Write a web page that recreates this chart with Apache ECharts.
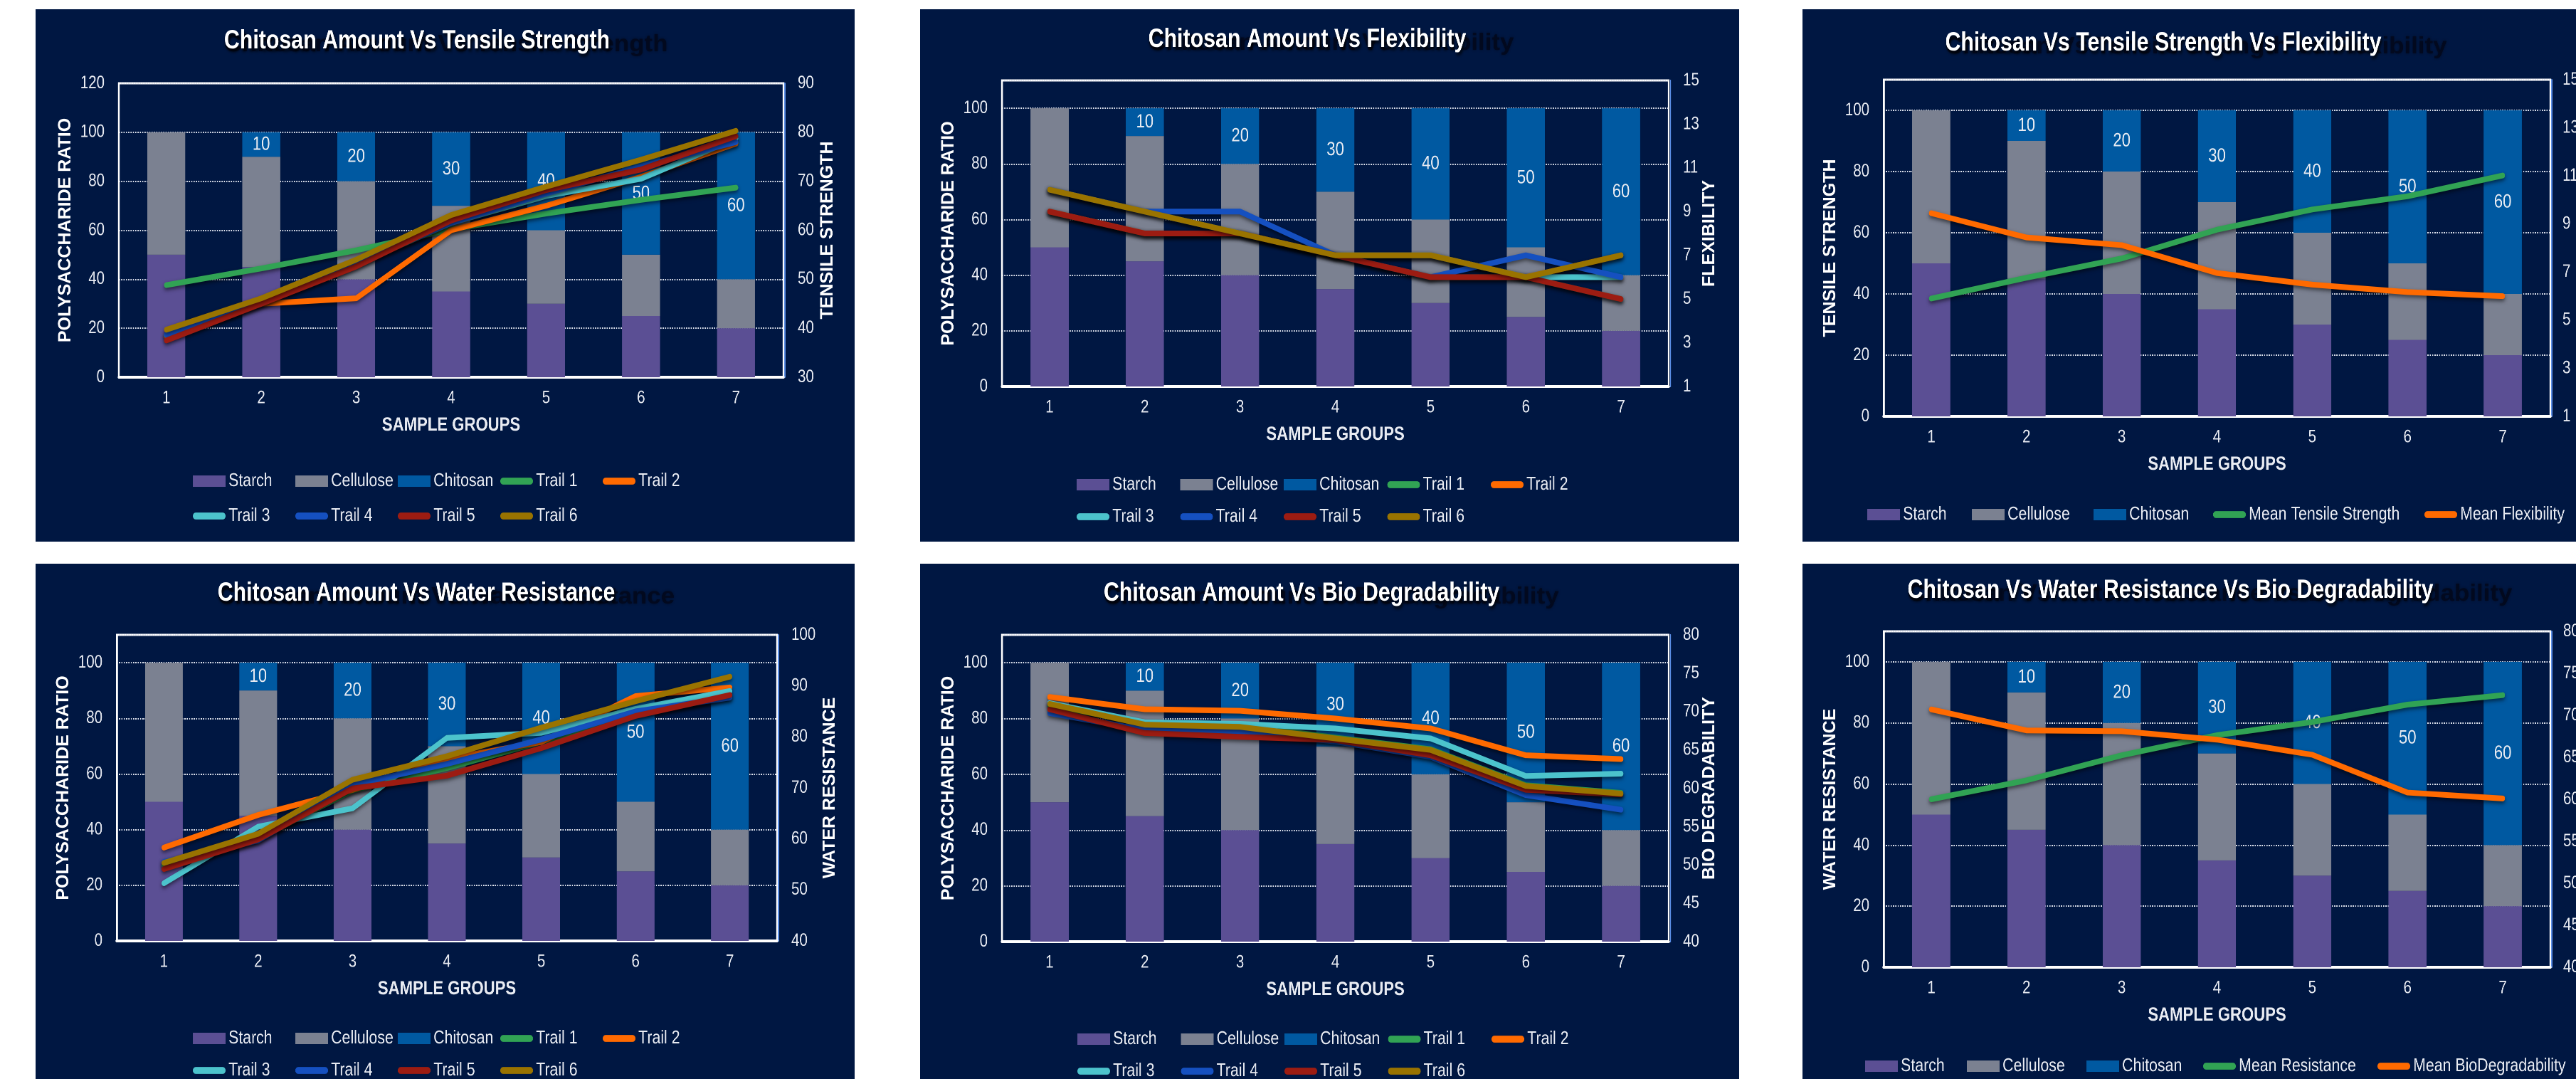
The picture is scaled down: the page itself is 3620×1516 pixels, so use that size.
<!DOCTYPE html>
<html>
<head>
<meta charset="utf-8">
<title>Chitosan blend films</title>
<script src="https://cdn.jsdelivr.net/npm/echarts@6/dist/echarts.min.js"></script>
<style>
  html, body { margin: 0; padding: 0; background: #ffffff; }
  body { position: relative; width: 3620px; height: 1516px; overflow: hidden; }
  .panel { position: absolute; background: #001742; overflow: hidden; }
  /* each chart is laid out wider and squeezed back, giving narrow (Arial Narrow style) lettering */
  .chart { position: absolute; left: 0; top: 0; transform-origin: 0 0; }
</style>
</head>
<body>
<div class="panel" id="tensile"     style="left:50px;top:13px;width:1151px;height:748px"></div>
<div class="panel" id="flex"        style="left:1293px;top:13px;width:1151px;height:748px"></div>
<div class="panel" id="tensileFlex" style="left:2533px;top:13px;width:1087px;height:748px"></div>
<div class="panel" id="water"       style="left:50px;top:792px;width:1151px;height:724px"></div>
<div class="panel" id="bio"         style="left:1293px;top:792px;width:1151px;height:724px"></div>
<div class="panel" id="waterBio"    style="left:2533px;top:792px;width:1087px;height:724px"></div>
<script>
// ---- fonts & palette ----
const FONT = "'Liberation Sans',Arial,Helvetica,sans-serif";
const K = 0.82;                 // horizontal squeeze of each chart canvas
const TEXT = '#e8ebf2';

// ---- film composition (polysaccharide ratio, %) ----
const sampleGroups = ['1', '2', '3', '4', '5', '6', '7'];
const starch    = [50, 45, 40, 35, 30, 25, 20];
const cellulose = [50, 45, 40, 35, 30, 25, 20];
const chitosan  = [0, 10, 20, 30, 40, 50, 60];

const trailNames  = ['Trail 1', 'Trail 2', 'Trail 3', 'Trail 4', 'Trail 5', 'Trail 6'];
const trailColors = ['#31a354', '#ff6a00', '#4cc3cc', '#1550c0', '#9c1c12', '#997300'];

// ---- tensile strength per trail ----
const tensileT1 = [48.8, 52.2, 55.9, 60.2, 63.4, 66.2, 68.7];
const tensileT2 = [38.2, 45.0, 46.1, 60.0, 65.0, 70.9, 77.7];
const tensileT3 = [38.6, 45.0, 53.0, 61.5, 67.0, 70.5, 78.7];
const tensileT4 = [38.7, 45.4, 53.3, 61.5, 67.5, 73.0, 78.0];
const tensileT5 = [37.5, 45.0, 52.6, 62.0, 68.2, 72.4, 79.2];
const tensileT6 = [39.7, 46.1, 54.0, 63.1, 68.9, 74.4, 80.3];

// ---- flexibility per trail ----
const flexT1 = [9, 8, 8, 7, 6, 6, 5];
const flexT2 = [9, 8, 8, 7, 7, 6, 7];
const flexT3 = [10, 9, 8, 7, 7, 6, 6];
const flexT4 = [10, 9, 9, 7, 6, 7, 6];
const flexT5 = [9, 8, 8, 7, 6, 6, 5];
const flexT6 = [10, 9, 8, 7, 7, 6, 7];

// ---- water resistance per trail ----
const waterT1 = [54.8, 60.0, 69.5, 73.9, 79.0, 84.4, 88.0];
const waterT2 = [58.3, 64.7, 69.6, 75.7, 79.0, 88.0, 89.7];
const waterT3 = [51.3, 62.4, 66.0, 79.8, 80.8, 85.5, 89.0];
const waterT4 = [55.5, 59.7, 70.6, 74.7, 79.5, 85.0, 87.7];
const waterT5 = [54.1, 59.9, 69.9, 72.4, 77.8, 84.1, 88.2];
const waterT6 = [55.3, 61.0, 71.6, 76.2, 81.8, 87.0, 91.8];

// ---- bio degradability per trail ----
const bioT1 = [70.8, 68.5, 68.2, 66.6, 65.1, 60.4, 59.4];
const bioT2 = [71.9, 70.3, 70.1, 69.1, 67.8, 64.3, 63.8];
const bioT3 = [71.1, 68.6, 68.4, 67.8, 66.5, 61.6, 61.9];
const bioT4 = [69.8, 67.6, 67.4, 66.1, 64.1, 59.1, 57.2];
const bioT5 = [70.3, 67.2, 66.7, 66.3, 64.3, 59.8, 59.2];
const bioT6 = [71.0, 68.3, 68.0, 66.5, 65.0, 60.3, 59.3];

// ---- means ----
const meanTensile = [38.5, 45.3, 51.6, 61.0, 67.6, 71.9, 78.7];
const meanFlex    = [9.45, 8.44, 8.12, 6.96, 6.48, 6.17, 6.0];
const meanWater   = [55.0, 61.2, 69.4, 76.0, 80.3, 86.0, 89.1];
const meanBio     = [70.7, 68.2, 68.1, 67.1, 65.3, 60.8, 60.1];

// ---- tick labels ----
const ratioTicks = [0, 20, 40, 60, 80, 100];
const flexTicks  = [1, 3, 5, 7, 9, 11, 13, 15];

const tensileTrails = [tensileT1, tensileT2, tensileT3, tensileT4, tensileT5, tensileT6];
const flexTrails    = [flexT1, flexT2, flexT3, flexT4, flexT5, flexT6];
const waterTrails   = [waterT1, waterT2, waterT3, waterT4, waterT5, waterT6];
const bioTrails     = [bioT1, bioT2, bioT3, bioT4, bioT5, bioT6];

const LINE_ICON = 'path://M4,0L42,0A4,4,0,0,1,42,8L4,8A4,4,0,0,1,4,0Z';
const measureCtx = document.createElement('canvas').getContext('2d');

function barSeries(name, data, color, withLabel) {
  const s = {
    type: 'bar', name, data, stack: 'ratio', barWidth: '40%', yAxisIndex: 0,
    itemStyle: { color }, emphasis: { disabled: true }
  };
  if (withLabel) {
    s.label = {
      show: true, position: 'inside', color: TEXT, fontSize: 27, fontFamily: FONT,
      formatter: p => (p.value > 0 ? String(p.value) : '')
    };
  }
  return s;
}

function lineSeries(name, data, color, axis) {
  return {
    type: 'line', name, data, yAxisIndex: axis, color, symbol: 'none', smooth: false, z: 3,
    itemStyle: { color },
    lineStyle: { width: 8, color, cap: 'round', join: 'round',
      shadowColor: 'rgba(0,0,0,0.55)', shadowBlur: 6, shadowOffsetY: 3 },
    emphasis: { disabled: true }
  };
}

// one legend entry placed at its own column position
function legendItem(name, isLine, left, top) {
  return {
    left: left / K, top, padding: 0, itemWidth: 46 / K, itemHeight: 16, selectedMode: false,
    data: [{ name, icon: isLine ? LINE_ICON : 'rect' }],
    textStyle: { color: TEXT, fontSize: 26, fontFamily: FONT }
  };
}

function axisName(text, cx, cy) {
  return {
    type: 'text', x: cx / K, y: cy, rotation: Math.PI / 2, scaleY: 1 / K, silent: true,
    style: { text, fill: '#ffffff', font: 'bold 25px ' + FONT,
      align: 'center', verticalAlign: 'middle', textAlign: 'center', textVerticalAlign: 'middle' }
  };
}

const tickStyle = { color: TEXT, fontSize: 25, fontFamily: FONT };

function buildPanel(p) {
  const host = document.getElementById(p.id);
  const W = host.clientWidth, H = host.clientHeight;
  const el = document.createElement('div');
  el.className = 'chart';
  el.style.width = (W / K) + 'px';
  el.style.height = H + 'px';
  el.style.transform = 'scaleX(' + K + ')';
  host.appendChild(el);
  const chart = echarts.init(el, null, { renderer: 'canvas', devicePixelRatio: 2 });

  const series = [
    barSeries('Starch', starch, '#5b4f94'),
    barSeries('Cellulose', cellulose, '#7b8191'),
    barSeries('Chitosan', chitosan, '#0059a1', true)
  ];
  p.lines.forEach(l => series.push(lineSeries(l[0], l[1], l[2], l[3])));
  const lineNames = p.lines.map(l => l[0]);

  const leftLabel = Object.assign({ margin: 20 / K }, tickStyle);
  if (p.leftMax !== 120) leftLabel.customValues = ratioTicks;

  const rightLabel = Object.assign({ margin: (p.right.margin || 18) / K }, tickStyle);
  if (p.right.ticks) rightLabel.customValues = p.right.ticks;

  const rightAxis = {
    type: 'value', position: 'right', min: p.right.min, max: p.right.max, offset: 2 / K,
    axisLine: { show: true, lineStyle: { color: '#5b8ee6', width: 2 } },
    axisTick: { show: false }, axisLabel: rightLabel, splitLine: { show: false }
  };
  if (p.right.interval) rightAxis.interval = p.right.interval;

  // title with its dark, stretched echo behind it
  const titleFont = 'bold 37px ' + FONT;
  measureCtx.font = titleFont;
  const tw = measureCtx.measureText(p.title).width;
  const tx = p.titleX / K;
  const plotMidY = p.grid.top + p.grid.height / 2;
  const plotRight = p.grid.left + p.grid.width;

  const legends = [];
  p.legend.forEach(row => {
    row.names.forEach((n, i) => legends.push(legendItem(n, lineNames.includes(n), row.lefts[i], row.top)));
  });

  chart.setOption({
    animation: false,
    graphic: [
      { type: 'text', x: tx - tw / 2, y: p.titleY + 5, scaleX: 1.15, scaleY: 0.9, silent: true, z: 0,
        style: { text: p.title, fill: 'rgba(3,7,26,0.8)', font: titleFont,
          align: 'left', verticalAlign: 'middle', textAlign: 'left', textVerticalAlign: 'middle',
          textShadowColor: 'rgba(0,0,0,0.5)', textShadowBlur: 4 } },
      { type: 'text', x: tx, y: p.titleY, silent: true, z: 1,
        style: { text: p.title, fill: '#ffffff', font: titleFont,
          align: 'center', verticalAlign: 'middle', textAlign: 'center', textVerticalAlign: 'middle',
          textShadowColor: 'rgba(0,0,0,0.8)', textShadowBlur: 4, textShadowOffsetX: 2, textShadowOffsetY: 4 } },
      axisName(p.leftName, p.grid.left - 75, plotMidY),
      axisName(p.right.name, plotRight + p.right.nameOffset, plotMidY)
    ],
    grid: {
      left: p.grid.left / K, top: p.grid.top, width: p.grid.width / K, height: p.grid.height,
      show: true, borderColor: '#ffffff', borderWidth: 3,
      backgroundColor: 'transparent', containLabel: false, outerBoundsMode: 'none'
    },
    legend: legends,
    xAxis: {
      type: 'category', data: sampleGroups,
      name: 'SAMPLE GROUPS', nameLocation: 'middle', nameGap: 54, nameMoveOverlap: false,
      nameTextStyle: { color: TEXT, fontSize: 27, fontWeight: 'bold', fontFamily: FONT },
      axisLine: { show: true, lineStyle: { color: '#ffffff', width: 4 } },
      axisTick: { show: false },
      axisLabel: Object.assign({ margin: 17 }, tickStyle)
    },
    yAxis: [
      {
        type: 'value', position: 'left', min: 0, max: p.leftMax, interval: 20,
        axisLine: { show: true, lineStyle: { color: '#ffffff', width: 3 } },
        axisTick: { show: false }, axisLabel: leftLabel,
        splitLine: { show: true, lineStyle: { color: '#e2e6f0', width: 2, type: [2, 2] } }
      },
      rightAxis
    ],
    series
  });
}

const colLefts = (start, pitch) => [0, 1, 2, 3, 4].map(i => start + i * pitch);
const twoRows = (start, pitch, top1, top2) => [
  { names: ['Starch', 'Cellulose', 'Chitosan', 'Trail 1', 'Trail 2'], lefts: colLefts(start, pitch), top: top1 },
  { names: ['Trail 3', 'Trail 4', 'Trail 5', 'Trail 6'], lefts: colLefts(start, pitch), top: top2 }
];
const trailLines = (sets) => trailNames.map((n, i) => [n, sets[i], trailColors[i], 1]);

const panels = [
  { id: 'tensile', title: 'Chitosan Amount Vs Tensile Strength', titleX: 536, titleY: 45,
    grid: { left: 117, top: 104, width: 934, height: 413 },
    leftName: 'POLYSACCHARIDE RATIO', leftMax: 120,
    right: { name: 'TENSILE STRENGTH', min: 30, max: 90, interval: 10, nameOffset: 62 },
    lines: trailLines(tensileTrails), legend: twoRows(221, 144, 650, 699) },
  { id: 'flex', title: 'Chitosan Amount Vs Flexibility', titleX: 544, titleY: 43,
    grid: { left: 115, top: 100, width: 937, height: 430 },
    leftName: 'POLYSACCHARIDE RATIO', leftMax: 110,
    right: { name: 'FLEXIBILITY', min: 1, max: 15, ticks: flexTicks, nameOffset: 57 },
    lines: trailLines(flexTrails), legend: twoRows(220, 145.5, 655, 700) },
  { id: 'tensileFlex', title: 'Chitosan Vs Tensile Strength Vs Flexibility', titleX: 507, titleY: 48,
    grid: { left: 114, top: 99, width: 937, height: 473 },
    leftName: 'TENSILE STRENGTH', leftMax: 110,
    right: { name: 'FLEXIBILITY', min: 1, max: 15, ticks: flexTicks, nameOffset: 57, margin: 15 },
    lines: [['Mean Tensile Strength', meanTensile, '#31a354', 0], ['Mean Flexibility', meanFlex, '#ff6a00', 1]],
    legend: [{ names: ['Starch', 'Cellulose', 'Chitosan', 'Mean Tensile Strength', 'Mean Flexibility'],
      lefts: [91, 238, 409, 577, 874], top: 697 }] },
  { id: 'water', title: 'Chitosan Amount Vs Water Resistance', titleX: 535, titleY: 42,
    grid: { left: 114, top: 100, width: 928, height: 430 },
    leftName: 'POLYSACCHARIDE RATIO', leftMax: 110,
    right: { name: 'WATER RESISTANCE', min: 40, max: 100, interval: 10, nameOffset: 74 },
    lines: trailLines(waterTrails), legend: twoRows(221, 144, 654, 699) },
  { id: 'bio', title: 'Chitosan Amount Vs Bio Degradability', titleX: 536, titleY: 42,
    grid: { left: 115, top: 100, width: 937, height: 431 },
    leftName: 'POLYSACCHARIDE RATIO', leftMax: 110,
    right: { name: 'BIO DEGRADABILITY', min: 40, max: 80, interval: 5, nameOffset: 57 },
    lines: trailLines(bioTrails), legend: twoRows(221, 145.5, 655, 700) },
  { id: 'waterBio', title: 'Chitosan Vs Water Resistance Vs Bio Degradability', titleX: 517, titleY: 38,
    grid: { left: 114, top: 95, width: 937, height: 472 },
    leftName: 'WATER RESISTANCE', leftMax: 110,
    right: { name: 'BIO DEGRADABILITY', min: 40, max: 80, interval: 5, nameOffset: 57, margin: 16 },
    lines: [['Mean Resistance', meanWater, '#31a354', 0], ['Mean BioDegradability', meanBio, '#ff6a00', 1]],
    legend: [{ names: ['Starch', 'Cellulose', 'Chitosan', 'Mean Resistance', 'Mean BioDegradability'],
      lefts: [88, 231, 399, 563, 808], top: 693 }] }
];

panels.forEach(buildPanel);
</script>
</body>
</html>
